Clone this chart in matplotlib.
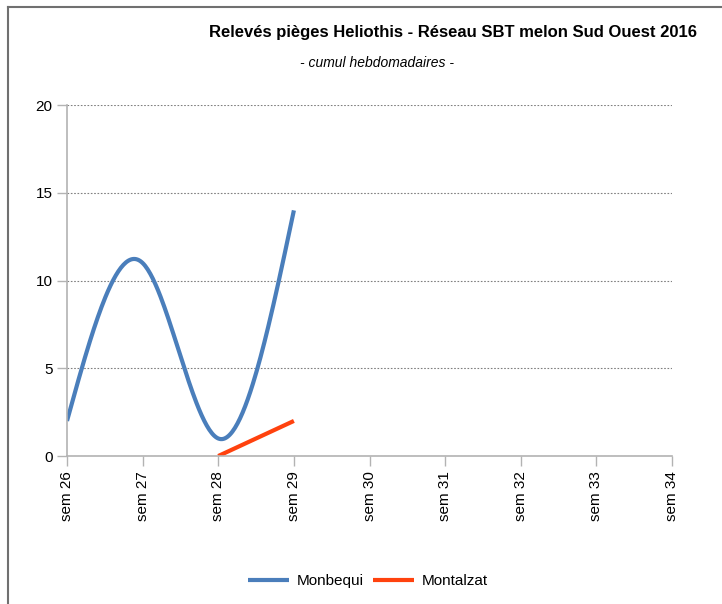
import matplotlib
matplotlib.use("Agg")
import matplotlib.pyplot as plt
from matplotlib.lines import Line2D
import numpy as np

plt.rcParams['font.family'] = ['Liberation Sans', 'DejaVu Sans']

weeks = ["sem 26", "sem 27", "sem 28", "sem 29", "sem 30", "sem 31", "sem 32", "sem 33", "sem 34"]
monbequi = [2, 11, 1, 14]
montalzat_weeks = [2, 3]
montalzat = [0, 2]


def natural_spline(y, n=60):
    # natural cubic spline through equally spaced points (smoothed line like the original)
    y = np.asarray(y, dtype=float)
    m = len(y)
    A = np.zeros((m, m))
    r = np.zeros(m)
    A[0, 0] = A[-1, -1] = 1
    for i in range(1, m - 1):
        A[i, i - 1], A[i, i], A[i, i + 1] = 1, 4, 1
        r[i] = 6 * (y[i + 1] - 2 * y[i] + y[i - 1])
    M = np.linalg.solve(A, r)
    xs, ys = [], []
    for i in range(m - 1):
        t = np.linspace(0, 1, n)
        s = ((1 - t) * y[i] + t * y[i + 1]
             + ((1 - t) ** 3 - (1 - t)) * M[i] / 6 + (t ** 3 - t) * M[i + 1] / 6)
        xs.append(i + t)
        ys.append(s)
    return np.concatenate(xs), np.concatenate(ys)


fig = plt.figure(figsize=(7.22, 6.04), dpi=100)
ax = fig.add_axes([0.0928, 0.245, 0.838, 0.581])

sx, sy = natural_spline(monbequi)
ax.plot(sx, sy, color='#4a7ebb', lw=3, label='Monbequi', solid_capstyle='butt')
ax.plot(montalzat_weeks, montalzat, color='#ff420e', lw=3, label='Montalzat', solid_capstyle='butt')

ax.set_xlim(0, len(weeks) - 1)
ax.set_ylim(0, 20)
ax.set_yticks([0, 5, 10, 15, 20])
ax.set_xticks(range(len(weeks)))
ax.set_xticklabels(weeks, rotation=90)
ax.tick_params(axis='both', labelsize=11, color='#b3b3b3', length=7, width=1)
ax.tick_params(axis='x', pad=4)
ax.grid(axis='y', color='#808080', linestyle=(0, (1.5, 1.5)), lw=0.8)
ax.set_axisbelow(True)
for s in ['top', 'right']:
    ax.spines[s].set_visible(False)
for s in ['left', 'bottom']:
    ax.spines[s].set_color('#b3b3b3')
    ax.spines[s].set_linewidth(1.2)

fig.text(0.627, 0.947, "Relevés pièges Heliothis - Réseau SBT melon Sud Ouest 2016",
         ha='center', va='center', fontsize=12, fontweight='bold')
fig.text(0.522, 0.896, "- cumul hebdomadaires -", ha='center', va='center',
         fontsize=10, style='italic')

fig.legend(loc='center', bbox_to_anchor=(0.51, 0.038), ncol=2, frameon=False,
           fontsize=11, handlelength=2.7, columnspacing=0.6, handletextpad=0.5)

# outer frame
fig.add_artist(Line2D([0.0111, 0.0111], [0, 0.9885], transform=fig.transFigure,
                      color='#707070', lw=1.5))
fig.add_artist(Line2D([0.0111, 1.0], [0.9885, 0.9885], transform=fig.transFigure,
                      color='#707070', lw=1.5))

fig.savefig("out.png", dpi=100)
